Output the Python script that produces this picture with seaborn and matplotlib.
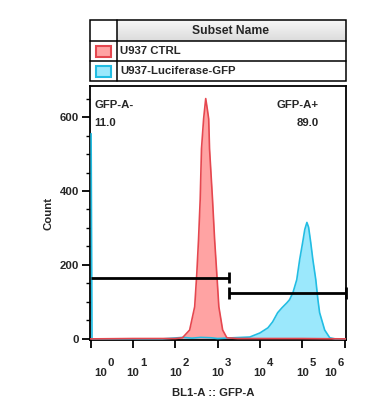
import numpy as np
import pandas as pd
import matplotlib
matplotlib.use("Agg")
import matplotlib.pyplot as plt
import seaborn as sns
from matplotlib.patches import Rectangle
from matplotlib.transforms import offset_copy, blended_transform_factory

# ---------------- data ----------------
subset_names = ["U937 CTRL", "U937-Luciferase-GFP"]
subset_fill = ["#ffa3a3", "#9be8fc"]
subset_edge = ["#e5474f", "#22bde3"]

ctrl_x = [1, 10, 100, 148, 219, 288, 324, 355, 389, 417, 468, 525, 575, 617,
          646, 759, 851, 955, 1072, 1318, 1660, 3000, 100000, 1060000]
ctrl_y = [0, 1, 1, 3, 24, 87, 179, 269, 378, 514, 595, 650, 620, 595,
          514, 378, 269, 179, 87, 24, 3, 1, 1, 0]

gfp_x = [1.03, 1.08, 50, 150, 250, 400, 700, 1000,
         2291, 5754, 10000, 15488, 19953, 26303, 33113, 43652, 50119, 60256,
         74131, 87096, 102329, 114815, 128825, 141254, 158489, 177828, 208930,
         234423, 257040, 338844, 446684, 600000, 1060000]
gfp_y = [555, 0, 0, 4, 2, 4, 3, 1,
         3, 5, 16, 30, 46, 71, 84, 98, 106, 125,
         160, 215, 261, 296, 315, 302, 261, 215, 160,
         106, 71, 24, 3, 0, 0]

gate_names = ["GFP-A-", "GFP-A+"]
gate_pct = ["11.0", "89.0"]
gate_lo = [1, 1820]
gate_hi = [1820, 1060000]
gate_level = [166, 125]

y_ticks = [0, 200, 400, 600]
x_decades = [0, 1, 2, 3, 4, 5, 6]
x_label = "BL1-A :: GFP-A"
y_label = "Count"

# ---------------- style ----------------
sns.set_style("ticks")
plt.rcParams["font.family"] = ["Liberation Sans", "DejaVu Sans"]
plt.rcParams["font.weight"] = "bold"

W, H = 367, 413
fig = plt.figure(figsize=(W / 100, H / 100), dpi=100)

def px_axes(x0, y0, x1, y1):
    return fig.add_axes([x0 / W, 1 - y1 / H, (x1 - x0) / W, (y1 - y0) / H])

ax = px_axes(90, 86, 346, 340)

fs = 8.2
PT = 0.72  # points per pixel at 100 dpi

# histograms
df_gfp = pd.DataFrame({"x": gfp_x, "y": gfp_y})
df_ctrl = pd.DataFrame({"x": ctrl_x, "y": ctrl_y})
ax.fill_between(df_gfp["x"], df_gfp["y"], 0, color=subset_fill[1], lw=0, zorder=2)
sns.lineplot(data=df_gfp, x="x", y="y", ax=ax, color=subset_edge[1], lw=1.2,
             sort=False, estimator=None, zorder=3)
ax.fill_between(df_ctrl["x"], df_ctrl["y"], 0, color=subset_fill[0], lw=0, zorder=2)
sns.lineplot(data=df_ctrl, x="x", y="y", ax=ax, color=subset_edge[0], lw=1.2,
             sort=False, estimator=None, zorder=3)

ax.set_xscale("log")
ax.set_xlim(0.97, 1.08e6)
ax.set_ylim(-3, 684)

# gates
for lo, hi, lvl, i in zip(gate_lo, gate_hi, gate_level, range(2)):
    ax.plot([lo, hi], [lvl, lvl], color="black", lw=2, zorder=5, clip_on=False,
            solid_capstyle="butt")
    ends = [hi] if i == 0 else [lo, hi]
    for e in ends:
        ax.plot([e, e], [lvl - 16, lvl + 16], color="black", lw=2, zorder=5,
                clip_on=False, solid_capstyle="butt")

# gate labels
ax.text(0.018, 0.945, gate_names[0], transform=ax.transAxes, fontsize=fs,
        fontweight="bold", va="top", ha="left")
ax.text(0.018, 0.875, gate_pct[0], transform=ax.transAxes, fontsize=fs,
        fontweight="bold", va="top", ha="left")
ax.text(0.895, 0.945, gate_names[1], transform=ax.transAxes, fontsize=fs,
        fontweight="bold", va="top", ha="right")
ax.text(0.895, 0.875, gate_pct[1], transform=ax.transAxes, fontsize=fs,
        fontweight="bold", va="top", ha="right")

# y axis
ax.set_yticks(y_ticks)
ax.set_yticklabels([str(t) for t in y_ticks], fontsize=fs, fontweight="bold")
ax.set_yticks(np.arange(0, 684, 50), minor=True)
ax.tick_params(axis="y", which="major", length=6, width=1.3, pad=2, color="black")
ax.tick_params(axis="y", which="minor", length=3, width=1, color="black")
ax.set_ylabel(y_label, fontsize=fs, fontweight="bold", labelpad=4)

# x axis
ax.set_xticks([10.0 ** d for d in x_decades])
ax.set_xticklabels([""] * len(x_decades))
ax.xaxis.set_minor_locator(matplotlib.ticker.LogLocator(base=10, subs=np.arange(2, 10)))
ax.xaxis.set_minor_formatter(matplotlib.ticker.NullFormatter())
ax.tick_params(axis="x", which="major", length=6, width=1.3, color="black")
ax.tick_params(axis="x", which="minor", length=3, width=1, color="black")

tr = blended_transform_factory(ax.transData, ax.transAxes)
shifts = {0: 10, 6: -14}
for d in x_decades:
    sh = shifts.get(d, 0)
    t1 = offset_copy(tr, fig=fig, x=sh * PT, y=-36 * PT, units="points")
    ax.text(10.0 ** d, 0, "10", transform=t1, fontsize=fs, fontweight="bold",
            ha="center", va="baseline")
    t2 = offset_copy(tr, fig=fig, x=(sh + 7) * PT, y=-26 * PT, units="points")
    ax.text(10.0 ** d, 0, str(d), transform=t2, fontsize=fs, fontweight="bold",
            ha="left", va="baseline")
ax.text(0.48, -0.19, x_label, transform=ax.transAxes, fontsize=fs,
        fontweight="bold", ha="center", va="top")
ax.set_xlabel("")

for s in ax.spines.values():
    s.set_linewidth(1.3)
    s.set_color("black")
    s.set_visible(True)

# ---------------- legend table ----------------
tab = px_axes(90, 20, 346, 81)
tab.axis("off")
grad = np.linspace(0.97, 0.86, 50).reshape(-1, 1)
tab.imshow(np.dstack([grad, grad, grad]), extent=[117, 346, 41, 20], aspect="auto",
           zorder=1, interpolation="bilinear")
tab.set_xlim(90, 346)
tab.set_ylim(81, 20)
lw = 1.1
tab.add_patch(Rectangle((90, 20), 256, 61, fill=False, ec="black", lw=lw, zorder=4,
                        clip_on=False))
tab.plot([117, 117], [20, 81], color="black", lw=lw, zorder=4, clip_on=False)
tab.plot([90, 346], [41, 41], color="black", lw=lw, zorder=4, clip_on=False)
tab.plot([90, 346], [61, 61], color="black", lw=lw, zorder=4, clip_on=False)
tab.text(231, 31, "Subset Name", fontsize=fs + 0.5, fontweight="bold", ha="center",
         va="center", zorder=5)
for i, name in enumerate(subset_names):
    yc = 51 + 20 * i
    tab.add_patch(Rectangle((96, yc - 5.5), 15, 11, fc=subset_fill[i], ec=subset_edge[i],
                            lw=1.5, zorder=5))
    tab.text(120, yc + 0.5, name, fontsize=fs, fontweight="bold", ha="left",
             va="center", zorder=5)

fig.savefig("out.png", dpi=100)
